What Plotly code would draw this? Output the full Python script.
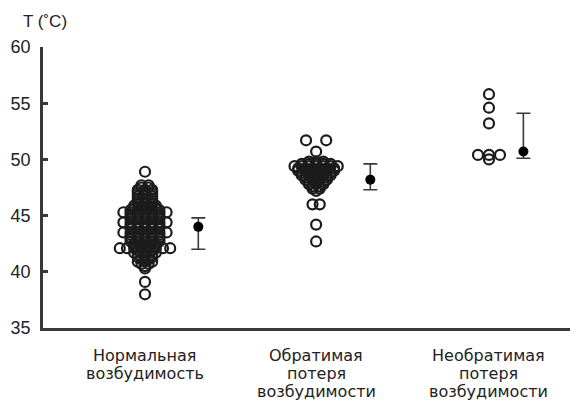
import plotly.graph_objects as go
from collections import Counter

# Category labels, one list of lines per group
categories = [
    ["Нормальная", "возбудимость"],
    ["Обратимая", "потеря", "возбудимости"],
    ["Необратимая", "потеря", "возбудимости"],
]

# Individual temperatures, °C
normal_vals = (
    [48.9]
    + [47.7] * 2 + [47.5] * 2 + [47.3] * 3 + [47.1] * 3 + [46.9] * 3
    + [46.7] * 3 + [46.5] * 3 + [46.3] * 3 + [46.1] * 3 + [45.9] * 4
    + [45.7] * 4 + [45.5] * 5
    + [45.3] * 7 + [45.1] * 5 + [44.9] * 5 + [44.7] * 5
    + [44.4] * 7 + [44.2] * 5 + [44.0] * 5 + [43.8] * 5
    + [43.5] * 7 + [43.3] * 5 + [43.1] * 5 + [42.9] * 5 + [42.7] * 5
    + [42.5] * 4 + [42.3] * 4
    + [42.1] * 8 + [41.9] * 3 + [41.7] * 4 + [41.5] * 3 + [41.3] * 3
    + [41.1] * 2 + [40.9] * 3 + [40.7] * 2 + [40.5] * 1 + [40.3] * 1
    + [39.1] + [38.0]
)
reversible_vals = (
    [51.7] * 2 + [50.7]
    + [49.8] * 3 + [49.6] * 5 + [49.4] * 7 + [49.2] * 6 + [49.0] * 6
    + [48.8] * 5 + [48.6] * 5 + [48.4] * 4 + [48.2] * 4 + [48.0] * 3
    + [47.8] * 3 + [47.6] * 2 + [47.4] * 2 + [47.2]
    + [46.0] * 2 + [44.2] + [42.7]
)
irreversible_vals = [55.8, 54.6, 53.2, 50.4, 50.4, 50.4, 50.0]

# Summary marker (centre value) with lower/upper bounds
summary_mid = [44.0, 48.2, 50.7]
summary_low = [42.0, 47.3, 50.1]
summary_high = [44.8, 49.6, 54.1]

groups = [normal_vals, reversible_vals, irreversible_vals]
group_x = [1, 1.995, 3]
summary_x = [1.31, 2.31, 3.2]
row_spacing_px = [7.2, 7.2, 11.0]

X_RANGE = [0.407, 3.471]
PLOT_W = 527
PX_PER_UNIT = PLOT_W / (X_RANGE[1] - X_RANGE[0])
FONT = "Liberation Sans, Arial, sans-serif"
LABEL_FONT = "DejaVu Sans, sans-serif"
INK = "#1c1c1c"


def dodge(values, centre, spacing_px):
    """Spread equal values side by side around the group centre."""
    counts = Counter(values)
    seen = Counter()
    xs = []
    for v in values:
        n = counts[v]
        # the isolated top pair of the middle group sits further apart
        step = spacing_px * 2.8 if (n == 2 and v > 51) else spacing_px
        k = seen[v]
        seen[v] += 1
        xs.append(centre + (k - (n - 1) / 2) * step / PX_PER_UNIT)
    return xs


fig = go.Figure()

for vals, cx, sp in zip(groups, group_x, row_spacing_px):
    fig.add_trace(go.Scatter(
        x=dodge(vals, cx, sp), y=vals, mode="markers",
        marker=dict(symbol="circle-open", size=10, color=INK,
                    line=dict(width=2.2, color=INK)),
        hoverinfo="y", showlegend=False,
    ))

fig.add_trace(go.Scatter(
    x=summary_x, y=summary_mid, mode="markers",
    marker=dict(symbol="circle", size=10, color="#000000"),
    error_y=dict(
        type="data", symmetric=False,
        array=[h - m for h, m in zip(summary_high, summary_mid)],
        arrayminus=[m - l for m, l in zip(summary_mid, summary_low)],
        color="#3a3a3a", thickness=1.6, width=7,
    ),
    showlegend=False,
))

LINE_STEP = 18.3
for cx, lines in zip(group_x, categories):
    for i, line in enumerate(lines):
        fig.add_annotation(
            x=cx, y=0, xref="x", yref="paper", yshift=-27 - i * LINE_STEP,
            text=line, showarrow=False, xanchor="center", yanchor="middle",
            font=dict(size=16, color="#222222", family=LABEL_FONT),
        )

fig.add_annotation(
    x=0, y=1, xref="paper", yref="paper", xshift=-22, yshift=26,
    text="T (˚C)", showarrow=False, xanchor="left", yanchor="middle",
    font=dict(size=17, color="#222222", family=FONT),
)

fig.update_xaxes(
    range=X_RANGE, showgrid=False, zeroline=False, showticklabels=False,
    ticks="", showline=True, linecolor="#383838", linewidth=2.5,
)
fig.update_yaxes(
    range=[35, 60], tickvals=[35, 40, 45, 50, 55, 60], showgrid=False,
    zeroline=False, showline=True, linecolor="#383838", linewidth=2.5,
    ticks="inside", ticklen=5, tickwidth=2.5, tickcolor="#383838",
    ticklabelstandoff=6,
    tickfont=dict(size=18, color="#222222", family=FONT),
)

fig.update_layout(
    width=573, height=400,
    margin=dict(l=43, r=3, t=47, b=72),
    plot_bgcolor="white", paper_bgcolor="white",
)

fig.write_html("out.html")
